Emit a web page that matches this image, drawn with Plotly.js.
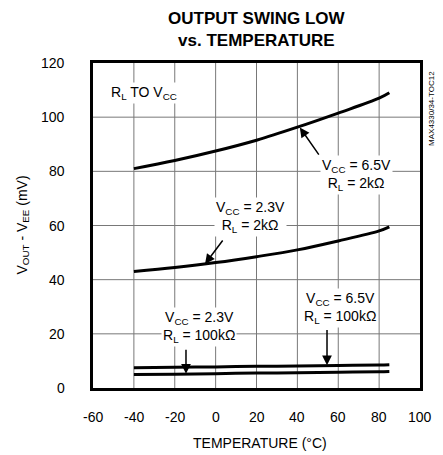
<!DOCTYPE html>
<html><head><meta charset="utf-8">
<script src="https://cdn.plot.ly/plotly-3.0.1.min.js"></script>
<style>html,body{margin:0;padding:0;background:#fff}#c{width:443px;height:455px}</style>
</head><body><div id="c"></div>
<script>
const temps = [-40, -20, 0, 20, 40, 60, 80, 85];
const vcc65_2k = [81, 84, 87.5, 91.5, 96.3, 101.5, 107, 109];
const vcc23_2k = [43, 44.5, 46.3, 48.5, 51, 54.3, 58, 59.5];
const vcc65_100k = [7.5, 7.7, 7.8, 8.0, 8.1, 8.3, 8.5, 8.6];
const vcc23_100k = [5.0, 5.1, 5.3, 5.5, 5.6, 5.8, 6.0, 6.1];
const xTicks = [-60, -40, -20, 0, 20, 40, 60, 80, 100];
const yTicks = [0, 20, 40, 60, 80, 100, 120];

const FONT = "Liberation Sans, Arial, Helvetica, sans-serif";
const xMin = xTicks[0], xMax = xTicks[xTicks.length - 1];
const yMin = yTicks[0], yMax = yTicks[yTicks.length - 1];

// grid lines drawn as line traces from the tick arrays
const gx = [], gy = [];
xTicks.slice(1, -1).forEach(v => { gx.push(v, v, null); gy.push(yMin, yMax, null); });
yTicks.slice(1, -1).forEach(v => { gx.push(xMin, xMax, null); gy.push(v, v, null); });
const gridTrace = {x: gx, y: gy, type: 'scatter', mode: 'lines', line: {color: 'rgb(120,120,120)', width: 1},
  hoverinfo: 'skip', showlegend: false};

const traces = [gridTrace].concat([vcc65_2k, vcc23_2k, vcc65_100k, vcc23_100k].map(v => ({
  x: temps, y: v, type: 'scatter', mode: 'lines', line: {color: '#000', width: 3, shape: 'spline'},
  hoverinfo: 'skip', showlegend: false
})));

const axisBase = {showgrid: false, showline: true, linecolor: '#000', linewidth: 3, mirror: true,
  zeroline: false, ticks: '', showticklabels: false};

const label = (x, y, text) => ({x: x, y: y, xref: 'x', yref: 'y', text: text, showarrow: false,
  font: {family: FONT, size: 14, color: '#000'}, bgcolor: '#fff', borderpad: 1});
const arrow = (x, y, ax, ay) => ({x: x, y: y, ax: ax, ay: ay, xref: 'x', yref: 'y', axref: 'x', ayref: 'y',
  text: '', showarrow: true, arrowhead: 2, arrowsize: 1.3, arrowwidth: 1.5, arrowcolor: '#000', standoff: 0});
const paperText = (x, y, text, size, angle) => ({xref: 'paper', yref: 'paper', x: x, y: y, xanchor: 'center', yanchor: 'middle',
  text: text, showarrow: false, textangle: angle || 0, font: {family: FONT, size: size, color: '#000'}});

const xTickLabels = xTicks.map(v => ({xref: 'x', yref: 'paper', x: v, y: 0, xanchor: 'center', yanchor: 'middle',
  yshift: -29, text: String(v), showarrow: false, font: {family: FONT, size: 14, color: '#000'}}));
const yTickLabels = yTicks.map(v => ({xref: 'paper', yref: 'y', x: 0, y: v, xanchor: 'right', yanchor: 'middle',
  xshift: -26, text: String(v), showarrow: false, font: {family: FONT, size: 14, color: '#000'}}));

const annotations = [
  paperText(0.502, 1.103, '<b>OUTPUT SWING LOW<br>vs. TEMPERATURE</b>', 17),
  paperText(0.511, -0.169, 'TEMPERATURE (°C)', 14),
  paperText(-0.217, 0.5, 'V<sub>OUT</sub> - V<sub>EE</sub> (mV)', 14, -90),
  paperText(1.035, 0.86, 'MAX4330/34-TOC12', 8, -90),
  label(-35, 109, 'R<sub>L</sub> TO V<sub>CC</sub>'),
  arrow(41.2, 96.2, 51, 85.6),
  label(68.7, 78.6, 'V<sub>CC</sub> = 6.5V<br>R<sub>L</sub> = 2kΩ'),
  arrow(-5.2, 45.8, 4, 55),
  label(17, 63, 'V<sub>CC</sub> = 2.3V<br>R<sub>L</sub> = 2kΩ'),
  arrow(-14.5, 5.3, -14.5, 14.7),
  label(-8, 22.4, 'V<sub>CC</sub> = 2.3V<br>R<sub>L</sub> = 100kΩ'),
  arrow(54.5, 8.4, 54.5, 22),
  label(61, 29.4, 'V<sub>CC</sub> = 6.5V<br>R<sub>L</sub> = 100kΩ')
].concat(xTickLabels, yTickLabels);

const layout = {
  width: 443, height: 455,
  margin: {l: 93, r: 23, t: 63, b: 67},
  paper_bgcolor: '#fff', plot_bgcolor: '#fff',
  xaxis: Object.assign({}, axisBase, {range: [xMin, xMax]}),
  yaxis: Object.assign({}, axisBase, {range: [yMin, yMax]}),
  annotations: annotations
};

Plotly.newPlot('c', traces, layout, {staticPlot: true});
</script></body></html>
